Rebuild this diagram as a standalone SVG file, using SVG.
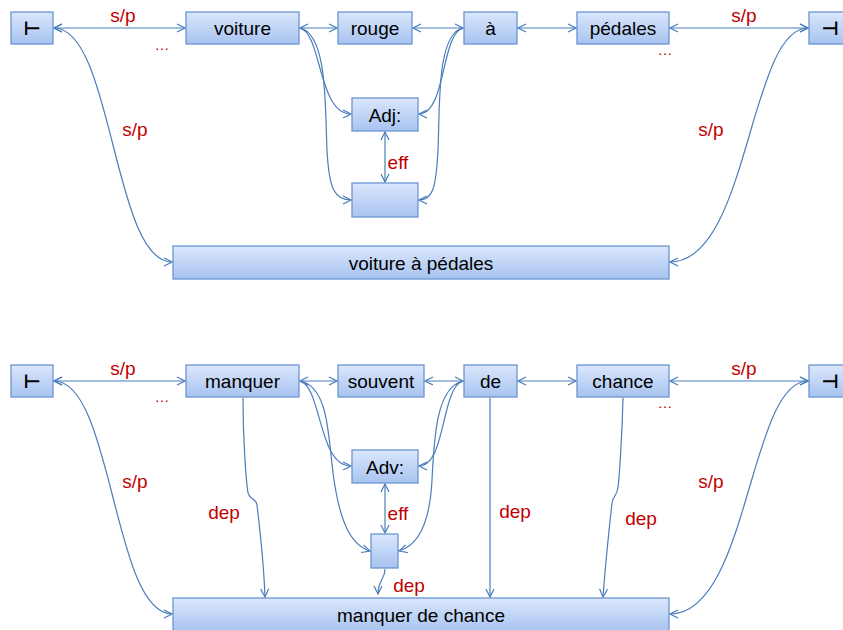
<svg xmlns="http://www.w3.org/2000/svg" width="843" height="630" viewBox="0 0 843 630">
<defs>
<linearGradient id="g" x1="0" y1="0" x2="0" y2="1">
<stop offset="0" stop-color="#dbe7fc"/>
<stop offset="1" stop-color="#a7c3f0"/>
</linearGradient>
<marker id="a" viewBox="0 0 10 10" refX="9" refY="5" markerWidth="10" markerHeight="10" markerUnits="userSpaceOnUse" orient="auto-start-reverse">
<path d="M1,1 L9,5 L1,9" fill="none" stroke="#4a7ebb" stroke-width="1.2"/>
</marker>
<style>
.n rect{fill:url(#g);stroke:#6b95d2;stroke-width:1.3}
.n text{font-family:"Liberation Sans",Arial,sans-serif;font-size:19px;fill:#000;text-anchor:middle}
.n text.sym{font-family:"DejaVu Sans",sans-serif;font-size:19px;font-weight:bold}
#edges path{fill:none;stroke:#4a7ebb;stroke-width:1.2}
.b{marker-start:url(#a);marker-end:url(#a)}
.e{marker-end:url(#a)}
.l{font-family:"Liberation Sans",Arial,sans-serif;font-size:19px;fill:#c00000;text-anchor:middle}
.d{font-size:15px}
</style>
</defs>
<rect width="843" height="630" fill="#fff"/>

<g id="edges">
<path class="b" d="M54,28 L185,28"/>
<path class="b" d="M300,28 L337,28"/>
<path class="b" d="M413,28 L463,28"/>
<path class="b" d="M518,28 L576,28"/>
<path class="b" d="M670,28 L808,28"/>
<path class="b" d="M54,28 C113,28 113,262 172,262"/>
<path class="b" d="M808,28 C749,28 749,262 670,262"/>
<path class="e" d="M300,28 C322,34 318,114 351,114"/>
<path class="e" d="M300,28 C328,34 325,110 327,150 C329,190 335,200 351,200"/>
<path class="e" d="M463,28 C441,34 446,114 419,114"/>
<path class="e" d="M463,28 C436,34 440,110 438,150 C436,190 432,200 419,200"/>
<path class="b" d="M385,132 L385,182"/>
<path class="b" d="M54,381 L185,381"/>
<path class="b" d="M300,381 L337,381"/>
<path class="b" d="M425,381 L463,381"/>
<path class="b" d="M518,381 L576,381"/>
<path class="b" d="M670,381 L808,381"/>
<path class="b" d="M54,381 C113,381 113,614 172,614"/>
<path class="b" d="M808,381 C749,381 749,614 670,614"/>
<path class="e" d="M300,381 C322,387 318,466 351,466"/>
<path class="e" d="M300,381 C330,387 328,440 334,480 C340,520 350,545 370,551"/>
<path class="e" d="M463,381 C441,387 446,466 419,466"/>
<path class="e" d="M463,381 C436,387 434,440 432,480 C430,520 420,545 399,551"/>
<path class="b" d="M385,484 L385,533"/>
<path class="e" d="M385,569 C385,580 378,580 378,594"/>
<path class="e" d="M243,398 C243,440 246,480 248,493 C250,500 256,498 257,505 C260,530 264,570 265,597"/>
<path class="e" d="M490,398 L490,597"/>
<path class="e" d="M623,398 C622,440 619,480 618,487 C617,497 613,495 612,503 C609,530 605,570 603,597"/>
</g>

<g id="n-start1" class="n"><rect x="11" y="12" width="42" height="32"/><text class="sym" x="32" y="35">⊢</text></g>
<g id="n-voiture" class="n"><rect x="186" y="12" width="113" height="32"/><text x="242.5" y="35">voiture</text></g>
<g id="n-rouge" class="n"><rect x="338" y="12" width="74" height="32"/><text x="375" y="35">rouge</text></g>
<g id="n-a" class="n"><rect x="464" y="12" width="53" height="32"/><text x="490.5" y="35">à</text></g>
<g id="n-pedales" class="n"><rect x="577" y="12" width="92" height="32"/><text x="623" y="35">pédales</text></g>
<g id="n-end1" class="n"><rect x="809" y="12" width="42" height="32"/><text class="sym" x="830" y="35">⊣</text></g>
<g id="n-adj" class="n"><rect x="352" y="98" width="66" height="33"/><text x="385" y="121.5">Adj:</text></g>
<g id="n-empty1" class="n"><rect x="352" y="183" width="66" height="34"/></g>
<g id="n-vap" class="n"><rect x="173" y="246" width="496" height="33"/><text x="421" y="269.5">voiture à pédales</text></g>

<g id="n-start2" class="n"><rect x="11" y="365" width="42" height="32"/><text class="sym" x="32" y="388">⊢</text></g>
<g id="n-manquer" class="n"><rect x="186" y="365" width="113" height="32"/><text x="242.5" y="388">manquer</text></g>
<g id="n-souvent" class="n"><rect x="338" y="365" width="86" height="32"/><text x="381" y="388">souvent</text></g>
<g id="n-de" class="n"><rect x="464" y="365" width="53" height="32"/><text x="490.5" y="388">de</text></g>
<g id="n-chance" class="n"><rect x="577" y="365" width="92" height="32"/><text x="623" y="388">chance</text></g>
<g id="n-end2" class="n"><rect x="809" y="365" width="42" height="32"/><text class="sym" x="830" y="388">⊣</text></g>
<g id="n-adv" class="n"><rect x="352" y="450" width="66" height="33"/><text x="385" y="473.5">Adv:</text></g>
<g id="n-empty2" class="n"><rect x="371" y="534" width="27" height="34"/></g>
<g id="n-mdc" class="n"><rect x="173" y="598" width="496" height="34"/><text x="421" y="622">manquer de chance</text></g>

<g id="labels">
<text class="l" x="123" y="22">s/p</text>
<text class="l d" x="162" y="50">…</text>
<text class="l" x="135" y="136">s/p</text>
<text class="l" x="398" y="169">eff</text>
<text class="l" x="744" y="22">s/p</text>
<text class="l d" x="665" y="55">…</text>
<text class="l" x="711" y="136">s/p</text>
<text class="l" x="123" y="375">s/p</text>
<text class="l d" x="162" y="402">…</text>
<text class="l" x="135" y="488">s/p</text>
<text class="l" x="224" y="519">dep</text>
<text class="l" x="398" y="520">eff</text>
<text class="l" x="409" y="592">dep</text>
<text class="l" x="515" y="518">dep</text>
<text class="l" x="641" y="525">dep</text>
<text class="l" x="744" y="375">s/p</text>
<text class="l d" x="665" y="408">…</text>
<text class="l" x="711" y="488">s/p</text>
</g>
</svg>
